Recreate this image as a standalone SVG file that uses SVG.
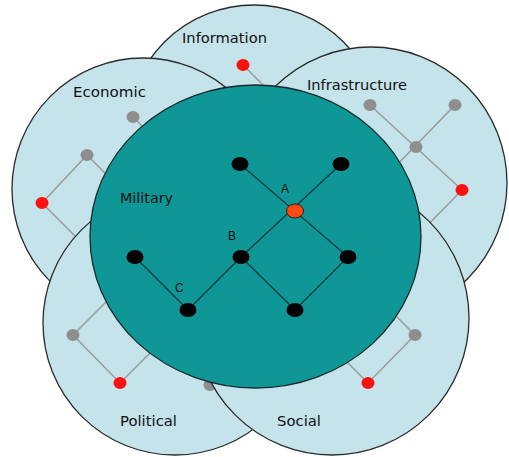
<svg xmlns="http://www.w3.org/2000/svg" width="509" height="457" viewBox="0 0 509 457">
<style>
.ring{fill:#c5e3eb;stroke:#2a2a2a;stroke-width:1.3}
.core{fill:#0f9696;stroke:#1a2a2a;stroke-width:1.3}
.gl{stroke:#9c9c9c;stroke-width:1.6;fill:none}
.ml{stroke:#0a3e3e;stroke-width:1.4;fill:none}
.gn{fill:#8e8e8e}
.rn{fill:#ff1010}
.bn{fill:#000}
.lbl{font-family:"DejaVu Sans","Liberation Sans",sans-serif;font-size:13.5px;fill:#111}
.sl{font-family:"Liberation Sans",Arial,sans-serif;font-size:12px;fill:#111}
</style>
<rect width="509" height="457" fill="#fff"/>
<g id="information">
<circle class="ring" cx="254" cy="132" r="127"/>
<line class="gl" x1="243" y1="65" x2="280" y2="102"/>
<ellipse class="rn" cx="243" cy="65" rx="6.5" ry="6"/>
<text class="lbl" x="182" y="43" textLength="85" lengthAdjust="spacingAndGlyphs">Information</text>
</g>
<g id="economic">
<circle class="ring" cx="143" cy="189" r="131"/>
<line class="gl" x1="133" y1="117" x2="152" y2="136"/>
<line class="gl" x1="87" y1="155" x2="42" y2="203"/>
<line class="gl" x1="87" y1="155" x2="112" y2="180"/>
<line class="gl" x1="42" y1="203" x2="90" y2="251"/>
<ellipse class="gn" cx="133" cy="117" rx="6.5" ry="6"/>
<ellipse class="gn" cx="87" cy="155" rx="6.5" ry="6"/>
<ellipse class="rn" cx="42" cy="203" rx="6.5" ry="6"/>
<text class="lbl" x="73" y="97" textLength="73" lengthAdjust="spacingAndGlyphs">Economic</text>
</g>
<g id="infrastructure">
<circle class="ring" cx="371" cy="183" r="136"/>
<line class="gl" x1="370" y1="105" x2="462" y2="190"/>
<line class="gl" x1="455" y1="105" x2="392" y2="170"/>
<line class="gl" x1="462" y1="190" x2="415" y2="238"/>
<ellipse class="gn" cx="370" cy="105" rx="6.5" ry="6"/>
<ellipse class="gn" cx="455" cy="105" rx="6.5" ry="6"/>
<ellipse class="gn" cx="416" cy="147" rx="6.5" ry="6"/>
<ellipse class="rn" cx="462" cy="190" rx="6.5" ry="6"/>
<text class="lbl" x="307" y="90" textLength="100" lengthAdjust="spacingAndGlyphs">Infrastructure</text>
</g>
<g id="political">
<circle class="ring" cx="175" cy="323" r="132"/>
<line class="gl" x1="73" y1="335" x2="120" y2="383"/>
<line class="gl" x1="73" y1="335" x2="116" y2="292"/>
<line class="gl" x1="120" y1="383" x2="162" y2="341"/>
<ellipse class="gn" cx="210" cy="385" rx="6.5" ry="6"/>
<ellipse class="gn" cx="73" cy="335" rx="6.5" ry="6"/>
<ellipse class="rn" cx="120" cy="383" rx="6.5" ry="6"/>
<text class="lbl" x="120" y="426" textLength="57" lengthAdjust="spacingAndGlyphs">Political</text>
</g>
<g id="social">
<circle class="ring" cx="332" cy="318" r="137"/>
<line class="gl" x1="415" y1="335" x2="368" y2="383"/>
<line class="gl" x1="415" y1="335" x2="388" y2="308"/>
<line class="gl" x1="368" y1="383" x2="342" y2="357"/>
<ellipse class="gn" cx="415" cy="335" rx="6.5" ry="6"/>
<ellipse class="rn" cx="368" cy="383" rx="6.5" ry="6"/>
<text class="lbl" x="277" y="426" textLength="44" lengthAdjust="spacingAndGlyphs">Social</text>
</g>
<g id="military">
<ellipse class="core" cx="255.5" cy="236.5" rx="165.5" ry="151.5"/>
<text class="lbl" x="120" y="203" textLength="53" lengthAdjust="spacingAndGlyphs">Military</text>
</g>
<g id="connectors">
<line class="ml" x1="240" y1="164" x2="348" y2="257"/>
<line class="ml" x1="341" y1="164" x2="241" y2="257"/>
<line class="ml" x1="241" y1="257" x2="295" y2="310"/>
<line class="ml" x1="348" y1="257" x2="295" y2="310"/>
<line class="ml" x1="135" y1="257" x2="188" y2="310"/>
<line class="ml" x1="188" y1="310" x2="241" y2="257"/>
</g>
<g id="node-t1"><ellipse class="bn" cx="240" cy="164" rx="8.5" ry="7"/></g>
<g id="node-t2"><ellipse class="bn" cx="341" cy="164" rx="8.5" ry="7"/></g>
<g id="node-a"><ellipse cx="295" cy="211" rx="8.5" ry="7" fill="#ff4a12" stroke="#3a1a0a" stroke-width="1"/><text class="sl" x="281" y="193">A</text></g>
<g id="node-b"><ellipse class="bn" cx="241" cy="257" rx="8.5" ry="7"/><text class="sl" x="228" y="240">B</text></g>
<g id="node-r"><ellipse class="bn" cx="348" cy="257" rx="8.5" ry="7"/></g>
<g id="node-l"><ellipse class="bn" cx="135" cy="257" rx="8.5" ry="7"/></g>
<g id="node-c"><ellipse class="bn" cx="188" cy="310" rx="8.5" ry="7"/><text class="sl" x="175" y="292">C</text></g>
<g id="node-d"><ellipse class="bn" cx="295" cy="310" rx="8.5" ry="7"/></g>
</svg>
